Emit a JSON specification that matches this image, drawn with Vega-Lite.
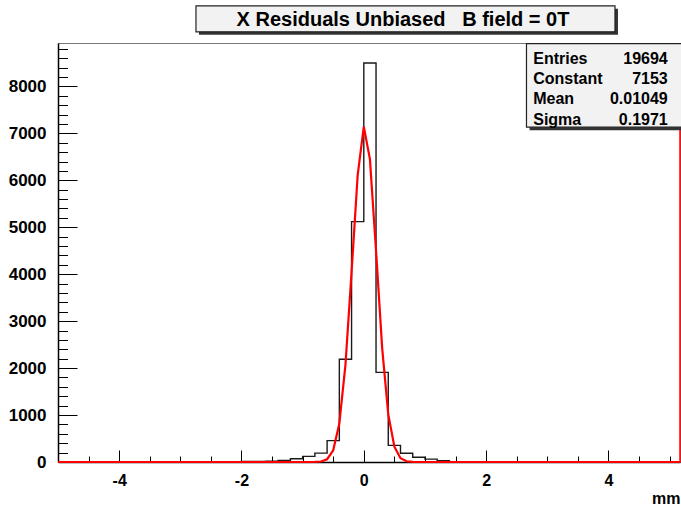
{
  "$schema": "https://vega.github.io/schema/vega-lite/v6.json",
  "width": 622,
  "height": 419,
  "autosize": "none",
  "padding": {"left": 58, "right": 1, "top": 43, "bottom": 43},
  "background": "white",
  "title": {
    "text": "X Residuals Unbiased\u00a0\u00a0\u00a0B field = 0T",
    "font": "Liberation Sans",
    "fontSize": 20,
    "fontWeight": "bold",
    "color": "black",
    "anchor": "middle",
    "baseline": "bottom",
    "dx": 34,
    "offset": -45
  },
  "config": {
    "view": {"stroke": "#777777", "strokeWidth": 1},
    "axis": {"grid": false, "labelFont": "Liberation Sans", "titleFont": "Liberation Sans"}
  },
  "datasets": {
    "hist": [
      {"x": -5.0, "count": 0},
      {"x": -2.2, "count": 4},
      {"x": -2.0, "count": 12},
      {"x": -1.8, "count": 14},
      {"x": -1.6, "count": 18},
      {"x": -1.4, "count": 35},
      {"x": -1.2, "count": 70},
      {"x": -1.0, "count": 120},
      {"x": -0.8, "count": 190},
      {"x": -0.6, "count": 455},
      {"x": -0.4, "count": 2190},
      {"x": -0.2, "count": 5120},
      {"x": 0.0, "count": 8500},
      {"x": 0.2, "count": 1910},
      {"x": 0.4, "count": 355},
      {"x": 0.6, "count": 185},
      {"x": 0.8, "count": 100},
      {"x": 1.0, "count": 62},
      {"x": 1.2, "count": 28},
      {"x": 1.4, "count": 8},
      {"x": 1.6, "count": 4},
      {"x": 1.8, "count": 0},
      {"x": 5.17, "count": 0}
    ],
    "fit": [
      {"x": -5.0, "f": 0},
      {"x": -1.0, "f": 0},
      {"x": -0.9, "f": 0.2},
      {"x": -0.8, "f": 1.5},
      {"x": -0.7, "f": 11},
      {"x": -0.6, "f": 59},
      {"x": -0.5, "f": 250},
      {"x": -0.4, "f": 818},
      {"x": -0.3, "f": 2069},
      {"x": -0.2, "f": 4044},
      {"x": -0.1, "f": 6113},
      {"x": 0.0, "f": 7143},
      {"x": 0.1, "f": 6452},
      {"x": 0.2, "f": 4506},
      {"x": 0.3, "f": 2432},
      {"x": 0.4, "f": 1015},
      {"x": 0.5, "f": 327},
      {"x": 0.6, "f": 82},
      {"x": 0.7, "f": 16},
      {"x": 0.8, "f": 2.3},
      {"x": 0.9, "f": 0.3},
      {"x": 1.0, "f": 0},
      {"x": 5.17, "f": 0}
    ],
    "edge": [{"x": 5.17}],
    "stats": [
      {"labels": ["Entries", "Constant", "Mean", "Sigma"], "values": ["19694", "7153", "0.01049", "0.1971"]}
    ]
  },
  "resolve": {"axis": {"x": "independent", "y": "independent"}},
  "layer": [
    {
      "data": {"name": "hist"},
      "mark": {"type": "line", "interpolate": "step-after", "color": "#1a1a1a", "strokeWidth": 1.4},
      "encoding": {
        "x": {
          "field": "x", "type": "quantitative",
          "scale": {"domain": [-5, 5.17], "nice": false, "zero": false},
          "axis": {
            "orient": "bottom",
            "values": [-4, -2, 0, 2, 4],
            "labelExpr": "'' + datum.value",
            "tickSize": -12, "tickColor": "black", "tickWidth": 1,
            "domainColor": "black", "domainWidth": 1.5,
            "labelFontSize": 16, "labelFontWeight": "bold", "labelColor": "black",
            "labelPadding": 22,
            "title": "mm", "titleAnchor": "end", "titleFontSize": 16, "titleFontWeight": "bold",
            "titleColor": "black", "titlePadding": 2
          }
        },
        "y": {
          "field": "count", "type": "quantitative",
          "scale": {"domain": [0, 8925], "nice": false},
          "axis": {
            "orient": "left",
            "values": [0, 1000, 2000, 3000, 4000, 5000, 6000, 7000, 8000],
            "labelExpr": "'' + datum.value",
            "tickSize": -19, "tickColor": "black", "tickWidth": 1,
            "domainColor": "black", "domainWidth": 1.5,
            "labelFontSize": 17, "labelFontWeight": "bold", "labelColor": "black",
            "labelPadding": 31,
            "title": null
          }
        }
      }
    },
    {
      "data": {"name": "fit"},
      "mark": {"type": "line", "color": "#ff0000", "strokeWidth": 2.2},
      "encoding": {
        "x": {
          "field": "x", "type": "quantitative",
          "axis": {
            "orient": "bottom",
            "values": [-4.5, -3.5, -3, -2.5, -1.5, -1, -0.5, 0.5, 1, 1.5, 2.5, 3, 3.5, 4.5, 5],
            "tickSize": -6, "tickColor": "black", "tickWidth": 1,
            "labels": false, "domain": false, "title": null
          }
        },
        "y": {
          "field": "f", "type": "quantitative",
          "axis": {
            "orient": "left",
            "values": [200, 400, 600, 800, 1200, 1400, 1600, 1800, 2200, 2400, 2600, 2800, 3200, 3400, 3600, 3800, 4200, 4400, 4600, 4800, 5200, 5400, 5600, 5800, 6200, 6400, 6600, 6800, 7200, 7400, 7600, 7800, 8200, 8400, 8600, 8800],
            "tickSize": -9.5, "tickColor": "black", "tickWidth": 1,
            "labels": false, "domain": false, "title": null
          }
        }
      }
    },
    {
      "data": {"name": "edge"},
      "mark": {"type": "rule", "color": "#ff0000", "strokeWidth": 1.5},
      "encoding": {
        "x": {"field": "x", "type": "quantitative", "axis": null}
      }
    },
    {
      "data": {"name": "stats"},
      "mark": {"type": "rect", "fill": "#333333"},
      "encoding": {
        "x": {"datum": 2.71, "type": "quantitative", "axis": null},
        "x2": {"datum": 5.6},
        "y": {"datum": 8850, "type": "quantitative", "axis": null},
        "y2": {"datum": 7067}
      }
    },
    {
      "data": {"name": "stats"},
      "mark": {"type": "rect", "fill": "#f2f2f2", "stroke": "#222222", "strokeWidth": 1.2},
      "encoding": {
        "x": {"datum": 2.66, "type": "quantitative", "axis": null},
        "x2": {"datum": 5.6},
        "y": {"datum": 8910, "type": "quantitative", "axis": null},
        "y2": {"datum": 7131}
      }
    },
    {
      "data": {"name": "stats"},
      "mark": {"type": "rect", "fill": "#333333"},
      "encoding": {
        "x": {"datum": -2.695, "type": "quantitative", "axis": null},
        "x2": {"datum": 4.156},
        "y": {"datum": 9653, "type": "quantitative", "axis": null},
        "y2": {"datum": 9100}
      }
    },
    {
      "data": {"name": "stats"},
      "mark": {"type": "rect", "fill": "#f2f2f2", "stroke": "#222222", "strokeWidth": 1.2},
      "encoding": {
        "x": {"datum": -2.744, "type": "quantitative", "axis": null},
        "x2": {"datum": 4.107},
        "y": {"datum": 9717, "type": "quantitative", "axis": null},
        "y2": {"datum": 9163}
      }
    },
    {
      "data": {"name": "stats"},
      "mark": {"type": "text", "align": "left", "baseline": "top", "font": "Liberation Sans", "fontSize": 16, "fontWeight": "bold", "color": "black", "lineHeight": 20.3},
      "encoding": {
        "x": {"datum": 2.77, "type": "quantitative", "axis": null},
        "y": {"datum": 8760, "type": "quantitative", "axis": null},
        "text": {"field": "labels", "type": "nominal"}
      }
    },
    {
      "data": {"name": "stats"},
      "mark": {"type": "text", "align": "right", "baseline": "top", "font": "Liberation Sans", "fontSize": 16, "fontWeight": "bold", "color": "black", "lineHeight": 20.3},
      "encoding": {
        "x": {"datum": 4.97, "type": "quantitative", "axis": null},
        "y": {"datum": 8760, "type": "quantitative", "axis": null},
        "text": {"field": "values", "type": "nominal"}
      }
    }
  ]
}
